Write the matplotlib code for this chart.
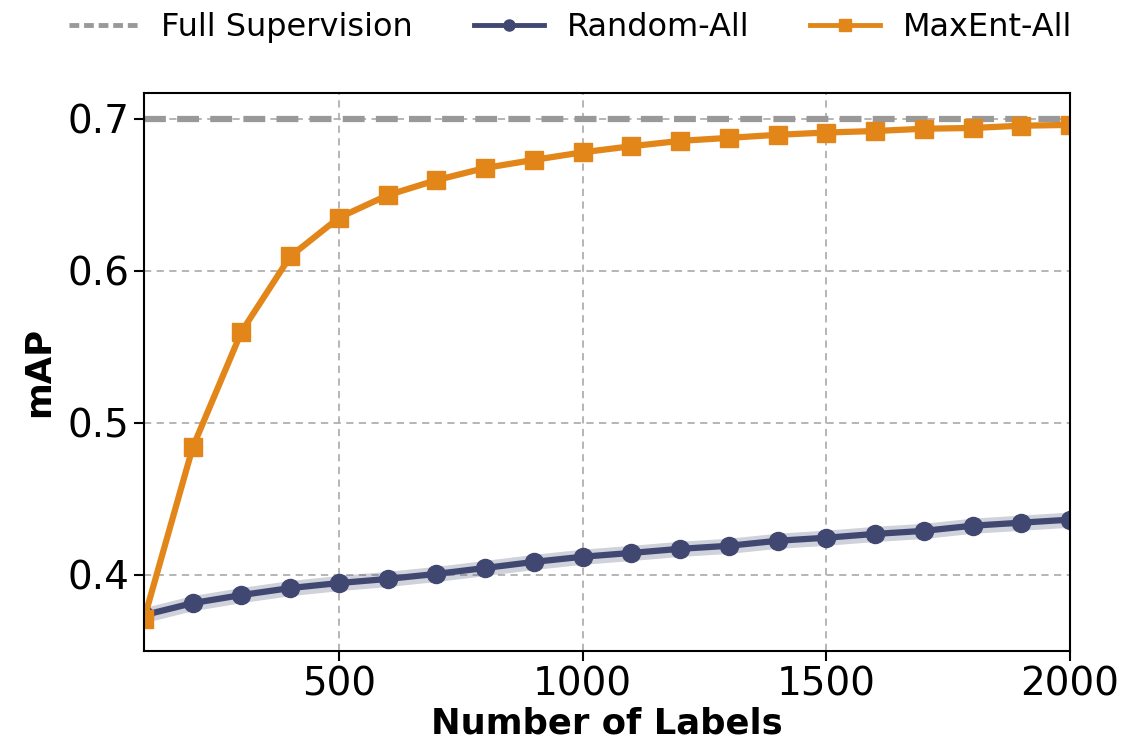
import matplotlib
matplotlib.use("Agg")
import matplotlib.pyplot as plt
from matplotlib.lines import Line2D
import numpy as np

# =========================
# DATA
# =========================
num_labels = list(range(100, 2001, 100))

maxent_all = [0.371, 0.484, 0.560, 0.6095, 0.635, 0.6498, 0.6597, 0.6677, 0.673, 0.678,
              0.682, 0.6855, 0.6875, 0.6895, 0.691, 0.692, 0.6935, 0.694, 0.6955, 0.696]

random_all = [0.3736, 0.3815, 0.3868, 0.3914, 0.3947, 0.3974, 0.4007, 0.4046, 0.4086, 0.412,
              0.4145, 0.4172, 0.4192, 0.4225, 0.4245, 0.427, 0.429, 0.4324, 0.4344, 0.4364]
random_std = [0.005] * len(num_labels)

full_supervision = 0.7

# =========================
# PLOT
# =========================
navy = "#404871"
orange = "#e3861a"
gray = "#999999"

fig = plt.figure(figsize=(11.27, 7.44), dpi=100)
ax = fig.add_axes([0.1278, 0.125, 0.8216, 0.75])

ax.grid(True, linestyle=(0, (4, 3)), color="#b0b0b0", linewidth=1.3)
ax.set_axisbelow(True)

ax.axhline(full_supervision, color=gray, linewidth=4.5, linestyle=(0, (3.5, 1.8)))

lo = np.array(random_all) - np.array(random_std)
hi = np.array(random_all) + np.array(random_std)
ax.fill_between(num_labels, lo, hi, color=navy, alpha=0.25, linewidth=0)
ax.plot(num_labels, random_all, "-o", color=navy, linewidth=4.5, markersize=13)
ax.plot(num_labels, maxent_all, "-s", color=orange, linewidth=4.5, markersize=13)

ax.set_xlim(100, 2000)
ax.set_ylim(0.35, 0.717)
ax.set_xticks([500, 1000, 1500, 2000])
ax.set_yticks([0.4, 0.5, 0.6, 0.7])
ax.tick_params(labelsize=28, width=1.5, length=7)
for s in ax.spines.values():
    s.set_linewidth(1.5)

ax.set_xlabel("Number of Labels", fontsize=25.5, fontweight="bold", labelpad=2)
ax.set_ylabel("mAP", fontsize=25.5, fontweight="bold", labelpad=8)

handles = [
    Line2D([], [], color=gray, linewidth=3.5, linestyle=(0, (2, 1))),
    Line2D([], [], color=navy, linewidth=3.5, marker="o", markersize=8),
    Line2D([], [], color=orange, linewidth=3.5, marker="s", markersize=8),
]
labels = ["Full Supervision", "Random-All", "MaxEnt-All"]
fig.legend(handles, labels, loc="upper center", bbox_to_anchor=(0.506, 1.022), ncol=3,
           frameon=False, fontsize=23, handlelength=2.2, handletextpad=0.7,
           columnspacing=1.9)

fig.savefig("out.png", dpi=100)
